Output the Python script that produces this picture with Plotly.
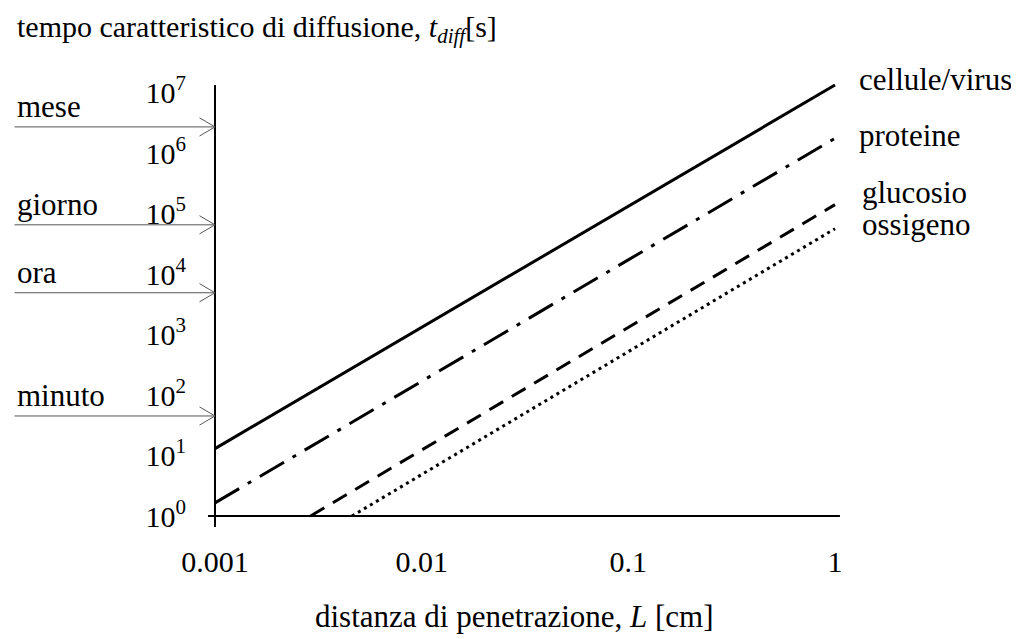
import numpy as np
import plotly.graph_objects as go

# ---- data ----
L_cellule = [0.001, 1.0]
t_cellule = [13.0, 1.33e7]
L_proteine = [0.001, 1.0]
t_proteine = [1.65, 1.75e6]
L_glucosio = [0.0029, 1.0]
t_glucosio = [1.0, 1.4e5]
L_ossigeno = [0.0046, 1.0]
t_ossigeno = [1.0, 5.6e4]

series_names = ["cellule/virus", "proteine", "glucosio", "ossigeno"]
label_y_px = [79, 135, 193, 225]
label_x_px = [857, 857, 860, 860]

x_ticks = [0.001, 0.01, 0.1, 1]
x_ticktext = ["0.001", "0.01", "0.1", "1"]
y_ticks = [1e0, 1e1, 1e2, 1e3, 1e4, 1e5, 1e6, 1e7]
y_ticktext = ["10<sup>0</sup>", "10<sup>1</sup>", "10<sup>2</sup>", "10<sup>3</sup>",
              "10<sup>4</sup>", "10<sup>5</sup>", "10<sup>6</sup>", "10<sup>7</sup>"]

time_names = ["mese", "giorno", "ora", "minuto"]
time_t = [2.7e6, 6.5e4, 4.9e3, 45.0]

# ---- layout geometry (page pixels; the page body has an 8px margin) ----
OFF = 8
W, H = 1019 - OFF, 639 - OFF
ML, MT = 215 - 10 - OFF, 80 - OFF
PW, PH = 637, 450
MR, MB = W - ML - PW, H - MT - PH


def PX(x):
    return (x - OFF - ML) / PW


def PY(y):
    return (MT + PH - (y - OFF)) / PH


FONT = "Liberation Serif, Times New Roman, serif"

fig = go.Figure()

styles = [
    dict(color="black", width=3, dash="solid"),
    dict(color="black", width=3, dash="28px,10px,4px,10px"),
    dict(color="black", width=3, dash="16px,10px"),
    dict(color="black", width=3, dash="3px,4px"),
]
for name, xs, ys, st in zip(series_names,
                            [L_cellule, L_proteine, L_glucosio, L_ossigeno],
                            [t_cellule, t_proteine, t_glucosio, t_ossigeno],
                            styles):
    fig.add_trace(go.Scatter(x=xs, y=ys, mode="lines", line=st, name=name,
                             showlegend=False, hoverinfo="skip"))

# axis lines (crossing at the origin)
fig.add_trace(go.Scatter(x=[10 ** -3.034, 10 ** 0.024], y=[1, 1], mode="lines",
                         line=dict(color="black", width=2), showlegend=False, hoverinfo="skip"))
fig.add_trace(go.Scatter(x=[0.001, 0.001], y=[10 ** -0.18, 10 ** 7.124], mode="lines",
                         line=dict(color="black", width=2), showlegend=False, hoverinfo="skip"))

annotations = []
# end labels
for name, ly, lx in zip(series_names, label_y_px, label_x_px):
    annotations.append(dict(x=PX(lx), y=PY(ly), xref="paper", yref="paper",
                            text=name, showarrow=False, xanchor="left", yanchor="middle",
                            font=dict(family=FONT, size=31, color="black")))

# time reference arrows
for name, tv in zip(time_names, time_t):
    yv = np.log10(tv)
    # shaft
    annotations.append(dict(x=-3, y=yv, xref="x", yref="y", ax=-202, ay=0,
                            axref="pixel", ayref="pixel", text="", showarrow=True,
                            arrowhead=0, arrowwidth=1, arrowcolor="#555"))
    # chevron arms
    for dy in (-10, 10):
        annotations.append(dict(x=-3, y=yv, xref="x", yref="y", ax=-17, ay=dy,
                                axref="pixel", ayref="pixel", text="", showarrow=True,
                                arrowhead=0, arrowwidth=1, arrowcolor="#555"))
    annotations.append(dict(x=PX(15), y=yv, xref="paper", yref="y", text=name,
                            showarrow=False, xanchor="left", yanchor="middle", yshift=20,
                            font=dict(family=FONT, size=31, color="black")))

# title and x label
annotations.append(dict(x=PX(15), y=PY(OFF), xref="paper", yref="paper",
                        text="tempo caratteristico di diffusione, <i>t</i><sub><i>diff</i></sub>[s]",
                        showarrow=False, xanchor="left", yanchor="top",
                        font=dict(family=FONT, size=30, color="black")))
annotations.append(dict(x=PX(514), y=PY(616), xref="paper", yref="paper",
                        text="distanza di penetrazione, <i>L</i> [cm]",
                        showarrow=False, xanchor="center", yanchor="middle",
                        font=dict(family=FONT, size=31, color="black")))

fig.update_layout(
    width=W, height=H,
    margin=dict(l=ML, r=MR, t=MT, b=MB, pad=0),
    paper_bgcolor="white", plot_bgcolor="white",
    font=dict(family=FONT, size=30, color="black"),
    annotations=annotations,
    xaxis=dict(type="log", range=[-3.0484, 0.0339], tickvals=x_ticks, ticktext=x_ticktext,
               showgrid=False, zeroline=False, showline=False, ticks="",
               tickfont=dict(family=FONT, size=30, color="black"), ticklabelstandoff=11),
    yaxis=dict(type="log", range=[-0.2314, 7.2066], tickvals=y_ticks, ticktext=y_ticktext,
               showgrid=False, zeroline=False, showline=False, ticks="",
               tickfont=dict(family=FONT, size=30, color="black"), ticklabelstandoff=18),
)

fig.write_html("out.html")
